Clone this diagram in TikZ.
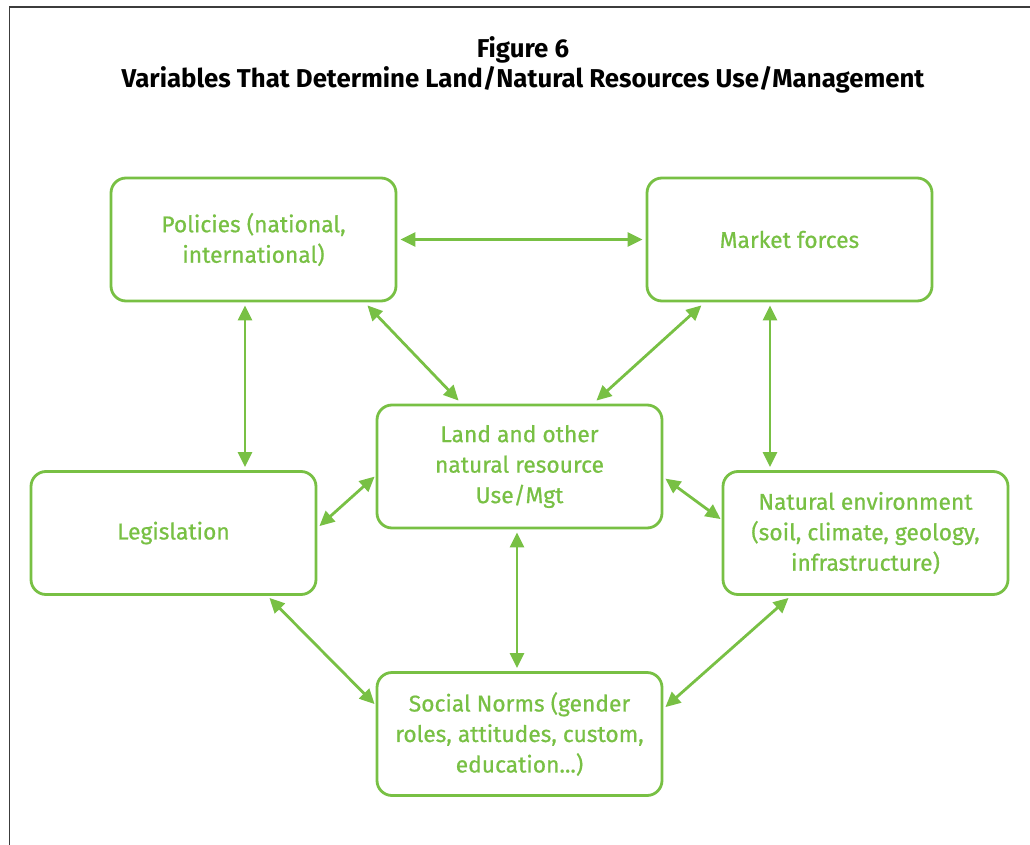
\documentclass[tikz,border=0pt]{standalone}
\usepackage{fontspec}
\setmainfont{Fira Sans}
\newfontface\boxfont{Fira Sans}[FakeBold=0.7]
\usetikzlibrary{arrows.meta}
\definecolor{leaf}{RGB}{120,192,68}
\definecolor{framegray}{RGB}{60,60,60}
\tikzset{
  varbox/.style={draw=leaf, line width=2.8pt, rounded corners=15pt,
    minimum width=285pt, minimum height=123pt, inner sep=0pt,
    text=leaf, align=center, font=\boxfont\fontsize{22.8}{30.5}\selectfont},
  link/.style={draw=leaf, line width=2.8pt,
    {Triangle[length=15pt,width=14pt]}-{Triangle[length=15pt,width=14pt]}},
  title/.style={align=center, font=\bfseries\fontsize{25.8}{30}\selectfont}
}
\begin{document}
\begin{tikzpicture}[x=1pt,y=1pt]
\useasboundingbox (0,0) rectangle (1030,-845);
% page frame (left and top edges)
\draw[framegray, line width=1.6pt] (9.5,-845) -- (9.5,-7) -- (1030,-7);

% heading
\node[title] (head) at (523,-65) {Figure 6\\Variables That Determine Land/Natural Resources Use/Management};

% the six variables
\node[varbox] (pol)  at (253.5,-239.5) {Policies (national,\\international)};
\node[varbox] (mkt)  at (789.5,-239.5) {Market forces};
\node[varbox] (land) at (519.5,-466.5) {Land and other\\natural resource\\Use/Mgt};
\node[varbox] (leg)  at (173.5,-533)   {Legislation};
\node[varbox] (env)  at (865.5,-533)   {Natural environment\\(soil, climate, geology,\\infrastructure)};
\node[varbox] (soc)  at (519.5,-734)   {Social Norms (gender\\roles, attitudes, custom,\\education...)};

% two-way influences
\draw[link] ([xshift=3pt]pol.east) -- ([xshift=-3pt]mkt.west);
\draw[link] ([xshift=-8.5pt,yshift=-3pt]pol.south) -- ([xshift=71.5pt,yshift=3pt]leg.north);
\draw[link] ([xshift=-30pt,yshift=-3pt]pol.south east) -- ([xshift=83pt,yshift=3pt]land.north west);
\draw[link] ([xshift=-232pt,yshift=-3pt]mkt.south east) -- ([xshift=-67pt,yshift=3pt]land.north east);
\draw[link] ([xshift=-19.5pt,yshift=-3pt]mkt.south) -- ([xshift=-95.5pt,yshift=3pt]env.north);
\draw[link] ([xshift=-1pt,yshift=-73pt]land.north west) -- ([xshift=2pt,yshift=-56pt]leg.north east);
\draw[link] ([xshift=2pt,yshift=-75pt]land.north east) -- ([xshift=-1pt,yshift=-49pt]env.north west);
\draw[link] ([xshift=-2.5pt,yshift=-3pt]land.south) -- ([xshift=-2.5pt,yshift=3pt]soc.north);
\draw[link] ([xshift=-48pt,yshift=-2pt]leg.south east) -- ([xshift=-1pt,yshift=-33pt]soc.north west);
\draw[link] ([xshift=67pt,yshift=-2pt]env.south west) -- ([xshift=2pt,yshift=-36pt]soc.north east);
\end{tikzpicture}
\end{document}
